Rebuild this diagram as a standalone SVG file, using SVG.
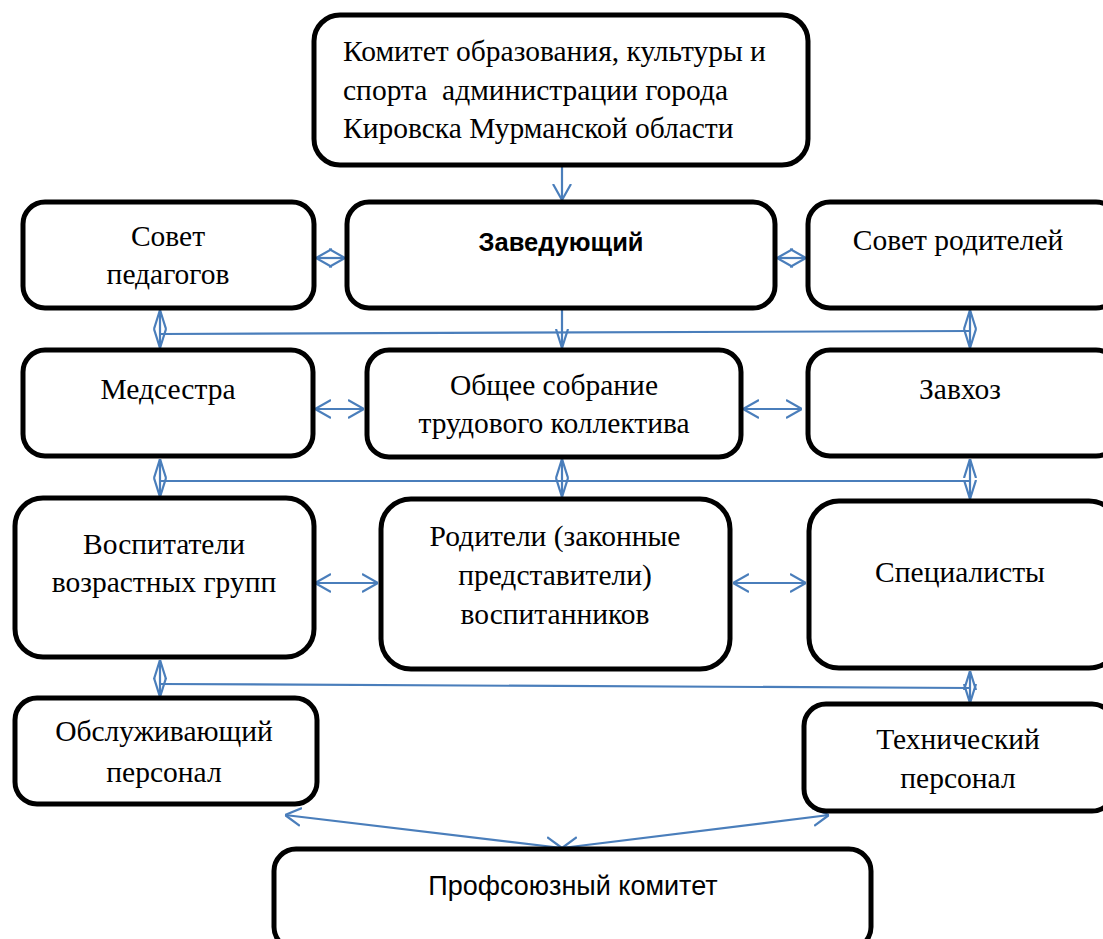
<svg xmlns="http://www.w3.org/2000/svg" width="1103" height="939" viewBox="0 0 1103 939">
<style>
.box{fill:#fff;stroke:#000;stroke-width:5}
.t{font-family:"Liberation Serif","Times New Roman",serif;font-size:29.5px;fill:#000;text-anchor:middle}
.b{font-family:"Liberation Sans",Arial,sans-serif;font-size:25.5px;font-weight:bold;fill:#000;text-anchor:middle}
.s{font-family:"Liberation Sans",Arial,sans-serif;font-size:27px;fill:#000;text-anchor:middle}
.c{fill:none;stroke:#4a7ebb;stroke-width:2.2}
</style>
<defs>
<marker id="ah" markerUnits="userSpaceOnUse" viewBox="0 0 16 20" refX="16" refY="10" markerWidth="16" markerHeight="20" orient="auto-start-reverse">
<path d="M0,1 L16,10 L0,19" fill="none" stroke="#4a7ebb" stroke-width="2.2"/>
</marker>
<marker id="dv" markerUnits="userSpaceOnUse" viewBox="0 0 19 14" refX="19" refY="7" markerWidth="19" markerHeight="14" orient="auto-start-reverse">
<path d="M0,1 L19,7 L0,13" fill="none" stroke="#4a7ebb" stroke-width="2.2"/>
</marker>
</defs>
<g id="connectors">
<line class="c" x1="562" y1="166" x2="562" y2="200" marker-end="url(#ah)"/>
<line class="c" x1="316" y1="258" x2="345" y2="258" marker-start="url(#ah)" marker-end="url(#ah)"/>
<line class="c" x1="777" y1="258" x2="806" y2="258" marker-start="url(#ah)" marker-end="url(#ah)"/>
<line class="c" x1="562" y1="310" x2="562" y2="348" marker-end="url(#dv)"/>
<line class="c" x1="160" y1="334" x2="970" y2="331"/>
<line class="c" x1="160" y1="310" x2="160" y2="348" marker-start="url(#dv)" marker-end="url(#dv)"/>
<line class="c" x1="970" y1="310" x2="970" y2="348" marker-start="url(#dv)" marker-end="url(#dv)"/>
<line class="c" x1="315" y1="409" x2="364" y2="409" marker-start="url(#ah)" marker-end="url(#ah)"/>
<line class="c" x1="743" y1="409" x2="802" y2="409" marker-start="url(#ah)" marker-end="url(#ah)"/>
<line class="c" x1="160" y1="481" x2="970" y2="481"/>
<line class="c" x1="160" y1="459" x2="160" y2="497" marker-start="url(#dv)" marker-end="url(#dv)"/>
<line class="c" x1="562" y1="459" x2="562" y2="497" marker-start="url(#dv)" marker-end="url(#dv)"/>
<line class="c" x1="970" y1="459" x2="970" y2="499" marker-start="url(#dv)" marker-end="url(#dv)"/>
<line class="c" x1="315" y1="583" x2="378" y2="583" marker-start="url(#ah)" marker-end="url(#ah)"/>
<line class="c" x1="733" y1="583" x2="806" y2="583" marker-start="url(#ah)" marker-end="url(#ah)"/>
<line class="c" x1="160" y1="684" x2="970" y2="688"/>
<line class="c" x1="160" y1="660" x2="160" y2="697" marker-start="url(#dv)" marker-end="url(#dv)"/>
<line class="c" x1="970" y1="671" x2="970" y2="703" marker-start="url(#dv)" marker-end="url(#dv)"/>
<line class="c" x1="285" y1="815" x2="562" y2="848" marker-start="url(#ah)" marker-end="url(#ah)"/>
<line class="c" x1="829" y1="815" x2="562" y2="848" marker-start="url(#ah)" marker-end="url(#ah)"/>
</g>
<g id="n-komitet">
<rect class="box" x="314" y="15" width="494" height="150" rx="26"/>
<text class="t" x="343" y="61" style="text-anchor:start">Комитет образования, культуры и</text>
<text class="t" x="343" y="100" style="text-anchor:start" xml:space="preserve">спорта  администрации города</text>
<text class="t" x="343" y="138" style="text-anchor:start">Кировска Мурманской области</text>
</g>
<g id="n-zaveduyushchiy">
<rect class="box" x="347" y="202" width="428" height="106" rx="22"/>
<text class="b" x="561" y="251">Заведующий</text>
</g>
<g id="n-sovet-pedagogov">
<rect class="box" x="23" y="202" width="291" height="106" rx="22"/>
<text class="t" x="168" y="246">Совет</text>
<text class="t" x="168" y="284">педагогов</text>
</g>
<g id="n-sovet-roditeley">
<rect class="box" x="808" y="202" width="310" height="106" rx="22"/>
<text class="t" x="958" y="250">Совет родителей</text>
</g>
<g id="n-medsestra">
<rect class="box" x="23" y="350" width="290" height="106" rx="22"/>
<text class="t" x="168" y="399">Медсестра</text>
</g>
<g id="n-obshchee">
<rect class="box" x="367" y="350" width="374" height="107" rx="22"/>
<text class="t" x="554" y="395">Общее собрание</text>
<text class="t" x="554" y="433">трудового коллектива</text>
</g>
<g id="n-zavkhoz">
<rect class="box" x="808" y="350" width="310" height="106" rx="22"/>
<text class="t" x="960" y="399">Завхоз</text>
</g>
<g id="n-vospitateli">
<rect class="box" x="15" y="498" width="299" height="159" rx="28"/>
<text class="t" x="164" y="554">Воспитатели</text>
<text class="t" x="164" y="592">возрастных групп</text>
</g>
<g id="n-roditeli">
<rect class="box" x="381" y="499" width="349" height="170" rx="30"/>
<text class="t" x="555" y="546">Родители (законные</text>
<text class="t" x="555" y="585">представители)</text>
<text class="t" x="555" y="624">воспитанников</text>
</g>
<g id="n-spetsialisty">
<rect class="box" x="809" y="501" width="310" height="167" rx="30"/>
<text class="t" x="960" y="582">Специалисты</text>
</g>
<g id="n-obsluzhivayushchiy">
<rect class="box" x="15" y="698" width="302" height="106" rx="22"/>
<text class="t" x="164" y="741">Обслуживающий</text>
<text class="t" x="164" y="782">персонал</text>
</g>
<g id="n-tekhnicheskiy">
<rect class="box" x="804" y="704" width="310" height="107" rx="22"/>
<text class="t" x="958" y="749">Технический</text>
<text class="t" x="958" y="788">персонал</text>
</g>
<g id="n-profsoyuz">
<rect class="box" x="274" y="849" width="597" height="100" rx="22"/>
<text class="s" x="573" y="895">Профсоюзный комитет</text>
</g>
</svg>
